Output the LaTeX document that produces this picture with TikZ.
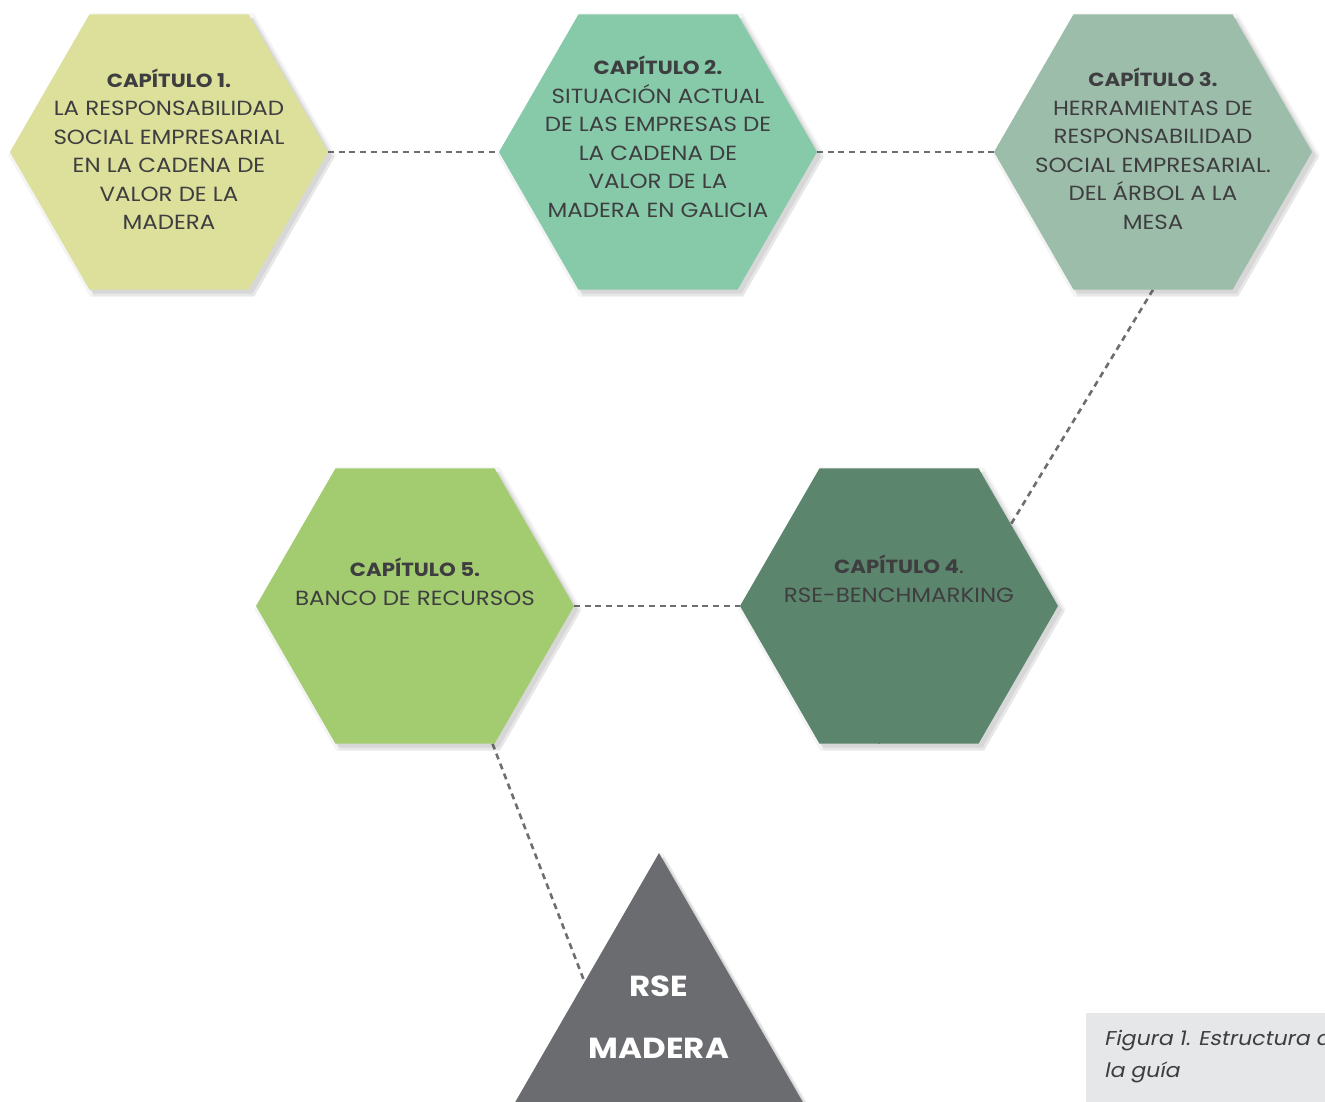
\documentclass[tikz,border=0pt]{standalone}
\usepackage{fontspec}
\setmainfont{Poppins}[FakeStretch=1.12]
\newfontfamily\capfont{Poppins}[FakeSlant=0.2,FakeStretch=1.1]
\usetikzlibrary{shapes.geometric,shadows,calc}
\definecolor{cA}{HTML}{DCE09A}
\definecolor{cB}{HTML}{86CAAA}
\definecolor{cC}{HTML}{9CBDAA}
\definecolor{cD}{HTML}{5C856D}
\definecolor{cE}{HTML}{A3CC71}
\definecolor{cT}{HTML}{6B6C70}
\definecolor{linegray}{HTML}{6D6E71}
\definecolor{txtgray}{HTML}{3E3E40}
\definecolor{capgray}{HTML}{E6E7E8}
\pgfdeclarelayer{bg}
\pgfsetlayers{bg,main}
\newcommand\ttl[1]{{\fontsize{19}{28.5}\selectfont\bfseries #1}}
\tikzset{
  softshadow/.style={
    drop shadow={shadow xshift=3pt,shadow yshift=-3pt,shadow scale=1.03,fill=black!70,opacity=0.06},
    drop shadow={shadow xshift=5pt,shadow yshift=-5pt,shadow scale=1.01,fill=black!70,opacity=0.08},
    drop shadow={shadow xshift=4pt,shadow yshift=-4pt,fill=black!70,opacity=0.10}},
  hexa/.style={regular polygon, regular polygon sides=6, minimum size=318pt,
    inner sep=0pt, outer sep=0pt, fill=#1, softshadow},
  link/.style={draw=linegray, line width=2.6pt, dash pattern=on 6pt off 4.7pt},
  txt/.style={text=txtgray, align=center, inner sep=0pt, font=\fontsize{20.5}{28.5}\selectfont},
}
\begin{document}
\begin{tikzpicture}[x=1pt,y=-1pt]
\useasboundingbox (0,0) rectangle (1325,1101);
% shapes
\node[hexa=cA] (h1) at (169,152) {};
\node[hexa=cB] (h2) at (658,152) {};
\node[hexa=cC] (h3) at (1153,152) {};
\node[hexa=cD] (h4) at (899,606) {};
\node[hexa=cE] (h5) at (415,606) {};
\node[regular polygon, regular polygon sides=3, minimum size=400pt, inner sep=0pt,
  outer sep=0pt, fill=cT, softshadow] (tri) at (659,1053) {};
% hidden connector ends
\coordinate (e4) at ($(h4.south)+(-21,0)$);
\coordinate (eT) at ($(tri.center)+(-47,0)$);
% connectors
\begin{pgfonlayer}{bg}
\draw[link] (h1.corner 6) -- (h2.corner 3);
\draw[link] (h2.corner 6) -- (h3.corner 3);
\draw[link] (h3.south) -- (e4);
\draw[link] (h5.corner 6) -- (h4.corner 3);
\draw[link] ($(h5.corner 5)+(-2,0)$) -- (eT);
\end{pgfonlayer}
% texts
\node[txt] (t1) at (169,149) {\ttl{CAPÍTULO 1.}\\LA RESPONSABILIDAD\\SOCIAL EMPRESARIAL\\EN LA CADENA DE\\VALOR DE LA\\MADERA};
\node[txt] (t2) at (658,137) {\ttl{CAPÍTULO 2.}\\SITUACIÓN ACTUAL\\DE LAS EMPRESAS DE\\LA CADENA DE\\VALOR DE LA\\MADERA EN GALICIA};
\node[txt] (t3) at (1153,149) {\ttl{CAPÍTULO 3.}\\HERRAMIENTAS DE\\RESPONSABILIDAD\\SOCIAL EMPRESARIAL.\\DEL ÁRBOL A LA\\MESA};
\node[txt] (t4) at (899,579) {\ttl{CAPÍTULO 4}.\\RSE-BENCHMARKING};
\node[txt] (t5) at (415,582) {\ttl{CAPÍTULO 5.}\\BANCO DE RECURSOS};
\node[align=center, text=white, inner sep=0pt, font=\fontsize{29}{62}\selectfont\bfseries] (tt) at (659,1017) {RSE\\MADERA};
% caption
\node[fill=capgray, anchor=north west, minimum width=260pt, minimum height=100pt, inner sep=0pt] (cap) at (1086,1013) {};
\node[anchor=north west, align=left, inner sep=0pt, text=txtgray, font=\capfont\fontsize{20}{32}\selectfont] (capt) at (1104,1030) {Figura 1. Estructura de\\la guía};
\end{tikzpicture}
\end{document}
